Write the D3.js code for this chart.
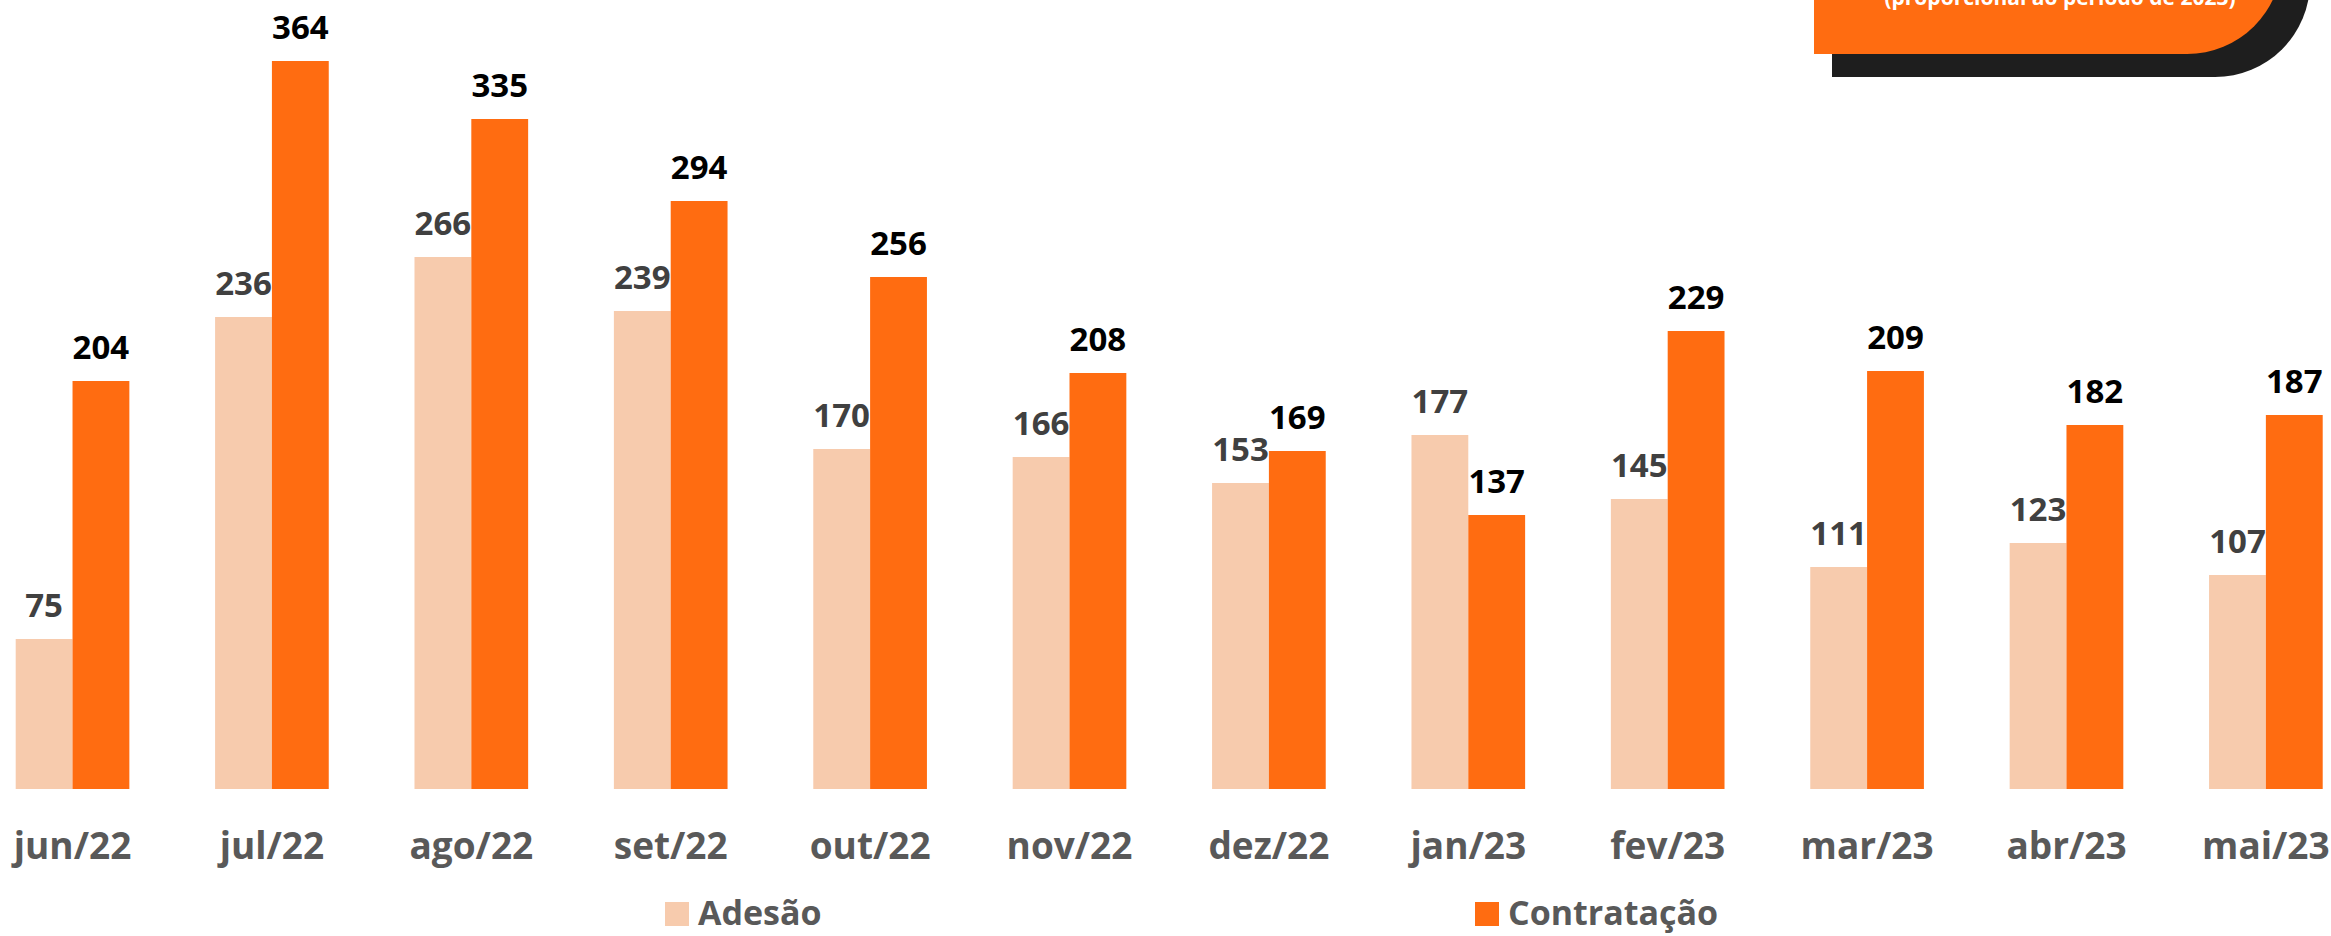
<!DOCTYPE html>
<html>
<head>
<meta charset="utf-8">
<script src="https://cdn.jsdelivr.net/npm/d3@7"></script>
<style>
  html, body { margin: 0; padding: 0; background: #ffffff; }
  svg { display: block; }
</style>
</head>
<body>
<svg id="chart" width="2331" height="936"></svg>
<script>
const categories = ["jun/22","jul/22","ago/22","set/22","out/22","nov/22","dez/22","jan/23","fev/23","mar/23","abr/23","mai/23"];
const seriesNames = ["Adesão","Contratação"];
const adesao = [75,236,266,239,170,166,153,177,145,111,123,107];
const contratacao = [204,364,335,294,256,208,169,137,229,209,182,187];
const boxText = "(proporcional ao período de 2023)";

const colors = {"Adesão": "#F7CBAD", "Contratação": "#FF6C11"};
const labelColors = {"Adesão": "#404040", "Contratação": "#000000"};
const FONT = "'Open Sans', 'Noto Sans', sans-serif";

const svg = d3.select("#chart");

// Decorative box top-right
svg.append("path")
  .attr("d", roundedBottomRight(1832, -120, 2310 - 1832, 77 + 120, 95))
  .attr("fill", "#1E1E1E");
svg.append("path")
  .attr("d", roundedBottomRight(1814, -120, 2282 - 1814, 54 + 120, 95))
  .attr("fill", "#FF6C11");
svg.append("text")
  .attr("x", 2060).attr("y", 5)
  .attr("text-anchor", "middle")
  .attr("font-family", FONT).attr("font-weight", 700).attr("font-size", 21)
  .attr("fill", "#ffffff")
  .text(boxText);

function roundedBottomRight(x, y, w, h, r) {
  return `M${x},${y} H${x + w} V${y + h - r} A${r},${r} 0 0 1 ${x + w - r},${y + h} H${x} Z`;
}

const x0 = d3.scaleBand().domain(categories).range([15.7, 2322.7]).paddingInner(0.43).paddingOuter(0);
const x1 = d3.scaleBand().domain(seriesNames).range([0, x0.bandwidth()]).padding(0);
const y = d3.scaleLinear().domain([0, 400]).range([789, -11]);

const data = categories.map((c, i) => ({
  cat: c,
  values: [
    {name: "Adesão", value: adesao[i]},
    {name: "Contratação", value: contratacao[i]}
  ]
}));

const groups = svg.append("g").selectAll("g").data(data).join("g")
  .attr("transform", d => `translate(${x0(d.cat)},0)`);

groups.selectAll("rect").data(d => d.values).join("rect")
  .attr("x", d => x1(d.name))
  .attr("y", d => y(d.value))
  .attr("width", x1.bandwidth())
  .attr("height", d => y(0) - y(d.value))
  .attr("fill", d => colors[d.name]);

groups.selectAll("text.val").data(d => d.values).join("text")
  .attr("class", "val")
  .attr("x", d => x1(d.name) + x1.bandwidth() / 2)
  .attr("y", d => y(d.value) - 22)
  .attr("text-anchor", "middle")
  .attr("font-family", FONT).attr("font-weight", 700).attr("font-size", 33)
  .attr("fill", d => labelColors[d.name])
  .text(d => d.value);

// x axis labels
const xAxis = d3.axisBottom(x0).tickSize(0).tickPadding(0);
const axisG = svg.append("g").attr("transform", `translate(0,${y(0)})`).call(xAxis);
axisG.select(".domain").remove();
axisG.selectAll("text")
  .attr("y", 0).attr("dy", 0)
  .attr("transform", "translate(0,70)")
  .attr("font-family", FONT).attr("font-weight", 700).attr("font-size", 37)
  .attr("fill", "#595959");

// legend
const legendPos = [{name: "Adesão", x: 665}, {name: "Contratação", x: 1475}];
const leg = svg.append("g").selectAll("g").data(legendPos).join("g")
  .attr("transform", d => `translate(${d.x},902)`);
leg.append("rect").attr("width", 24).attr("height", 24).attr("fill", d => colors[d.name]);
leg.append("text")
  .attr("x", 33).attr("y", 23)
  .attr("font-family", FONT).attr("font-weight", 700).attr("font-size", 34)
  .attr("fill", "#595959")
  .text(d => d.name);
</script>
</body>
</html>
